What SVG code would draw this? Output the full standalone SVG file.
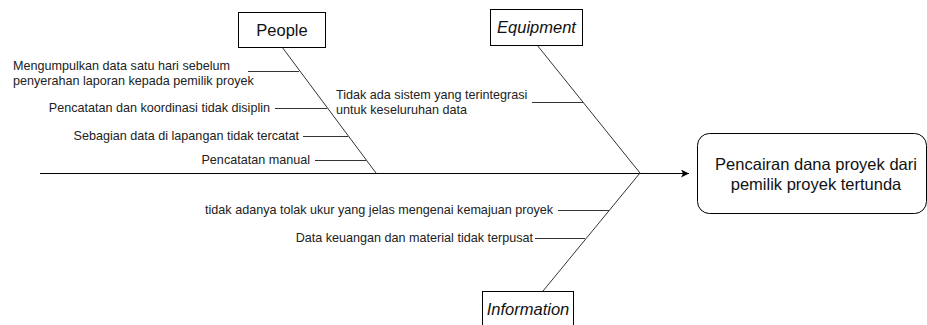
<svg xmlns="http://www.w3.org/2000/svg" width="927" height="325" viewBox="0 0 927 325">
<defs>
<style>
.lbl{font-family:"Liberation Sans",Arial,sans-serif;font-size:12.6px;fill:#222}
.ttl{font-family:"Liberation Sans",Arial,sans-serif;font-size:16.5px;fill:#111}
.it{font-style:italic}
.box{fill:#fff;stroke:#000;stroke-width:1}
.ln{stroke:#000;stroke-width:1;fill:none}
.bone{stroke:#333;stroke-width:1;fill:none}
</style>
<marker id="arr" markerWidth="10" markerHeight="10" refX="8" refY="4" orient="auto" markerUnits="userSpaceOnUse">
<path d="M0,0 L8,4 L0,8 L2,4 Z" fill="#000"/>
</marker>
</defs>
<rect width="927" height="325" fill="#fff"/>
<g id="connectors">
<line class="ln" x1="40" y1="173.5" x2="689" y2="173.5" marker-end="url(#arr)"/>
<line class="bone" x1="282" y1="47" x2="376" y2="173"/>
<line class="bone" x1="537" y1="45" x2="640" y2="173"/>
<line class="bone" x1="543" y1="291" x2="640" y2="173"/>
<line class="bone" x1="248" y1="71.5" x2="299" y2="71.5"/>
<line class="bone" x1="275" y1="108.5" x2="327" y2="108.5"/>
<line class="bone" x1="303" y1="136.5" x2="348" y2="136.5"/>
<line class="bone" x1="315" y1="160.5" x2="366" y2="160.5"/>
<line class="bone" x1="532" y1="102.5" x2="583" y2="102.5"/>
<line class="bone" x1="558" y1="210.5" x2="609" y2="210.5"/>
<line class="bone" x1="535" y1="238.5" x2="585" y2="238.5"/>
</g>
<g id="people">
<rect class="box" x="238.5" y="12.5" width="87" height="35"/>
<text class="ttl" x="282" y="36" text-anchor="middle">People</text>
</g>
<g id="equipment">
<rect class="box" x="490.5" y="9.5" width="92" height="36"/>
<text class="ttl it" x="536.5" y="33" text-anchor="middle">Equipment</text>
</g>
<g id="information">
<rect class="box" x="482.5" y="291.5" width="91" height="40"/>
<text class="ttl it" x="528" y="315" text-anchor="middle">Information</text>
</g>
<g id="effect">
<rect class="box" x="697.5" y="133.5" width="229" height="80" rx="12" ry="12"/>
<text class="ttl" x="816" y="170" text-anchor="middle">Pencairan dana proyek dari</text>
<text class="ttl" x="816" y="190" text-anchor="middle">pemilik proyek tertunda</text>
</g>
<g id="cause-people-1">
<text class="lbl" x="13" y="70">Mengumpulkan data satu hari sebelum</text>
<text class="lbl" x="13" y="85">penyerahan laporan kepada pemilik proyek</text>
</g>
<g id="cause-people-2">
<text class="lbl" x="270" y="112" text-anchor="end">Pencatatan dan koordinasi tidak disiplin</text>
</g>
<g id="cause-people-3">
<text class="lbl" x="299" y="140" text-anchor="end">Sebagian data di lapangan tidak tercatat</text>
</g>
<g id="cause-people-4">
<text class="lbl" x="310" y="164" text-anchor="end">Pencatatan manual</text>
</g>
<g id="cause-equipment-1">
<text class="lbl" x="336" y="99">Tidak ada sistem yang terintegrasi</text>
<text class="lbl" x="336" y="114">untuk keseluruhan data</text>
</g>
<g id="cause-information-1">
<text class="lbl" x="553" y="214" text-anchor="end">tidak adanya tolak ukur yang jelas mengenai kemajuan proyek</text>
</g>
<g id="cause-information-2">
<text class="lbl" x="533" y="242" text-anchor="end">Data keuangan dan material tidak terpusat</text>
</g>
</svg>
